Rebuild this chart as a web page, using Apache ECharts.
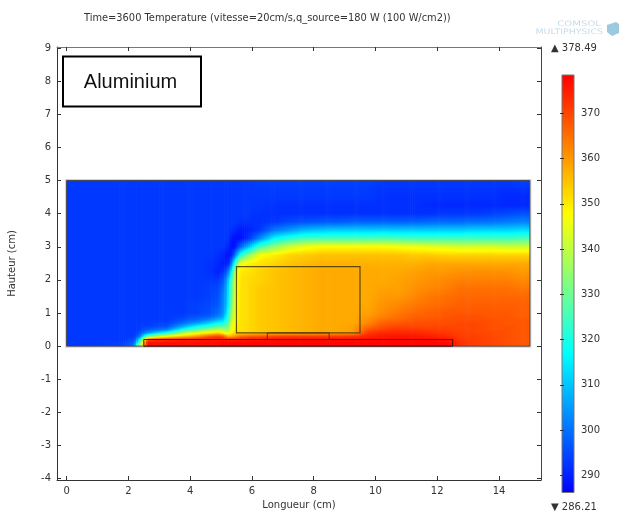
<!DOCTYPE html>
<html><head><meta charset="utf-8">
<script src="https://cdn.jsdelivr.net/npm/echarts@6/dist/echarts.min.js"></script>
<style>html,body{margin:0;padding:0;background:#fff}#c{width:619px;height:512px}</style>
</head><body><div id="c"></div>
<script>
const titleText = 'Time=3600 Temperature (vitesse=20cm/s,q_source=180 W (100 W/cm2))';
const annotationText = 'Aluminium';
const xName = 'Longueur (cm)';
const yName = 'Hauteur (cm)';
const xTicks = [0,2,4,6,8,10,12,14];
const yTicks = [-4,-3,-2,-1,0,1,2,3,4,5,6,7,8,9];
const colorbarTicks = [290,300,310,320,330,340,350,360,370];
const tempMin = 286.21;
const tempMax = 378.49;
const palette = ['#0000ff','#00ffff','#ffff00','#ff0000'];
// column edges (cm)
const xEdges = [0,1.5,2.1,2.25,2.4,2.5,2.75,3,3.5,4,4.5,4.8,5,5.1,5.2,5.3,5.4,5.5,5.75,6,6.5,7,7.5,8,8.5,9,9.5,10,10.5,11,11.5,12,12.5,13,13.5,14,14.5,15];
// heights at which each column was read (cm)
const yLevels = [0,.1,.2,.3,.4,.5,.6,.7,.8,.9,1, 1.25,1.5,1.75,2, 2.25,2.5,2.75,3, 3.25,3.5,3.75,4, 4.25,4.5,5];
// temperature, one line per column, bottom to top
const temperature = [
[293,293,293,293,293,293,293,293,293,293,293, 293,293,293,293, 293,293,293,293, 293,293,293,293, 293,293,293],
[294,294,293,293,293,293,293,293,293,293,293, 293,293,293,293, 293,293,293,293, 293,293,293,293, 293,293,293],
[300,298,295,293,293,293,293,293,293,293,293, 293,293,293,293, 293,293,293,293, 293,293,293,293, 293,293,293],
[330,320,308,298,295,293,293,293,293,293,293, 293,293,293,293, 293,293,293,293, 293,293,293,293, 293,293,293],
[350,345,330,310,299,295,294,293,293,293,293, 293,293,293,293, 293,293,293,293, 293,293,293,293, 293,293,293],
[377,377,370,328,305,297,294,293,293,293,293, 293,293,293,293, 293,293,293,293, 293,293,293,293, 293,293,293],
[377,377,372,338,311,299,295,294,293,293,293, 293,293,293,293, 293,293,293,293, 293,293,293,293, 293,293,293],
[377,377,373,347,320,302,296,294,293,293,293, 293,293,293,293, 293,293,293,293, 293,293,293,293, 293,293,293],
[377,377,375,354,338,318,306,299,296,294,293, 293,293,293,293, 293,293,293,293, 293,293,293,293, 293,293,293],
[377,377,376,360,346,328,317,305,299,296,294, 294,293,293,293, 293,293,293,293, 293,293,293,293, 293,293,293],
[377,377,376,368,350,336,322,312,303,298,296, 295,294,294,293, 292,292,293,293, 293,293,293,293, 293,293,293],
[377,377,376,370,353,340,327,317,308,302,299, 297,296,295,293, 290,291,292,293, 293,293,293,293, 293,293,293],
[378,378,376,368,350,338,326,318,310,305,303, 302,301,299,296, 292,289,291,293, 293,293,293,293, 293,293,293],
[378,378,376,362,345,335,328,322,317,313,310, 307,306,305,302, 295,290,289,292, 293,293,293,293, 293,293,293],
[378,378,375,356,345,340,335,330,327,324,322, 318,316,315,312, 303,291,288,290, 292,293,293,293, 293,293,293],
[378,378,375,358,350,346,344,342,340,338,336, 332,330,328,326, 318,303,291,288, 289,292,293,293, 293,293,293],
[378,378,375,360,352,350,349,348,347,346,346, 345,345,344,343, 340,322,300,289, 288,291,293,293, 293,293,293],
[378,378,375,365,352,351,351,351,351,351,351, 351,351,351,351, 350,346,320,298, 288,289,292,293, 293,293,293],
[378,378,376,367,353,352,352,352,352,352,352, 352,352,352,352, 351,349,332,308, 292,290,292,293, 293,293,293],
[378,378,376,368,354,354,354,354,354,354,354, 354,354,354,353, 353,351,347,325, 303,293,292,292, 293,293,294],
[378,378,377,370,355,355,355,355,355,355,355, 355,355,355,355, 355,353,350,335, 317,301,293,292, 292,293,294],
[378,378,377,371,356,356,356,356,356,356,356, 356,356,356,356, 356,355,353,342, 322,305,295,292, 292,293,294],
[378,378,377,371,357,357,357,357,357,357,357, 357,357,357,357, 357,356,354,346, 325,309,296,292, 292,293,294],
[378,378,377,371,358,358,358,358,358,358,358, 358,358,358,358, 358,357,355,348, 326,310,297,292, 292,293,294],
[378,378,377,371,358,358,358,358,358,358,358, 358,358,358,358, 358,357,355,348, 326,311,297,292, 292,293,294],
[378,378,377,372,359,359,359,358,358,358,358, 358,358,358,358, 358,357,355,348, 326,311,298,292, 292,293,294],
[378,378,377,374,372,368,365,362,361,360,359, 358,358,358,358, 358,357,355,348, 326,311,298,292, 292,293,294],
[378,378,377,376,374,371,369,367,365,363,362, 361,360,359,358, 358,357,355,348, 327,311,298,292, 292,292,293],
[378,378,377,376,374,372,370,368,366,365,364, 362,360,359,359, 358,357,355,347, 326,311,298,292, 292,292,293],
[378,378,377,376,374,372,370,369,368,367,366, 364,362,361,360, 359,357,354,346, 325,311,298,292, 292,292,293],
[378,378,377,375,373,371,370,369,368,367,367, 365,364,362,361, 360,358,354,345, 325,311,299,292, 291,292,293],
[378,378,376,374,372,371,370,369,369,368,368, 366,365,363,362, 360,358,353,344, 325,311,299,293, 291,292,293],
[373,373,372,371,371,370,370,370,369,369,368, 367,366,365,363, 361,358,353,343, 325,311,299,293, 291,292,293],
[371,371,371,371,370,370,370,370,369,369,368, 367,366,365,363, 361,358,353,343, 325,312,300,293, 291,292,293],
[370,370,370,370,370,369,369,369,369,368,368, 367,366,365,363, 361,358,353,343, 325,312,300,294, 291,292,293],
[369,369,369,369,369,369,369,368,368,368,368, 367,366,365,363, 361,358,353,342, 325,312,301,295, 291,291,293],
[368,368,368,368,368,368,368,368,368,367,367, 367,366,364,362, 360,358,353,342, 326,313,302,296, 291,291,294]
];
// geometry outlines [x0, y0, x1, y1] in cm
const domainRect = [[0,0,15,5]];
const plateRect = [[2.5,0,12.5,0.2]];
const standRect = [[6.5,0.2,8.5,0.4]];
const boxRect = [[5.5,0.4,9.5,2.4]];
const colorbarEdge = [[0,tempMin,1,tempMax]];
const colorbarLevels = [286.21,290,300,310,320,330,340,350,360,370,378.49];

const chart = echarts.init(document.getElementById('c'));
const colorOf = t => echarts.color.lerp(Math.min(1,Math.max(0,(t-tempMin)/(tempMax-tempMin))), palette);
const xCenters = temperature.map((c,i)=>(xEdges[i]+xEdges[i+1])/2);

// shading between the read levels: a canvas gradient per painted band
function gradientStops(levels, values){
  const lo = levels[0], hi = levels[levels.length-1], stops = [];
  for(let i=0;i<levels.length-1;i++){
    for(let k=0;k<6;k++){
      const f=k/6;
      stops.push({offset:(levels[i]+(levels[i+1]-levels[i])*f-lo)/(hi-lo), color:colorOf(values[i]+(values[i+1]-values[i])*f)});
    }
  }
  stops.push({offset:1,color:colorOf(values[values.length-1])});
  return stops;
}
function bandShape(api, x0, x1, levels, values, overlap){
  const a = api.coord([x0, levels[levels.length-1]]);
  const b = api.coord([x1, levels[0]]);
  return {type:'rect', shape:{x:a[0], y:a[1], width:b[0]-a[0]+overlap, height:b[1]-a[1]},
    style:{fill:new echarts.graphic.LinearGradient(0,1,0,0,gradientStops(levels,values))}};
}
// each column is painted as thin bands that shade towards the neighbouring column
function columnShade(x, i){
  const j = x < xCenters[i] ? i-1 : i+1;
  if(j<0 || j>=temperature.length) return temperature[i];
  const f = (x-xCenters[i])/(xCenters[j]-xCenters[i]);
  return temperature[i].map((v,k)=>v+(temperature[j][k]-v)*f);
}
function outlineSeries(data, stroke, width, xi, yi, z){
  return {type:'custom', coordinateSystem:'cartesian2d', xAxisIndex:xi, yAxisIndex:yi, z:z, silent:true, data:data,
    encode:{x:[0,2],y:[1,3]},
    renderItem(params, api){
      const a = api.coord([api.value(0), api.value(3)]);
      const b = api.coord([api.value(2), api.value(1)]);
      return {type:'rect', shape:{x:a[0],y:a[1],width:b[0]-a[0],height:b[1]-a[1]},
        style:{fill:'none', stroke:stroke, lineWidth:width}};
    }};
}
const stripData = temperature.map((c,i)=>[xEdges[i],xEdges[i+1],i]);
const axisBase = {type:'value', splitLine:{show:false}, minorTick:{show:false}};
const fontC = '#333';
const fam = '"DejaVu Sans"';
const bandStep = 0.065; // about 2 px

chart.setOption({
  animation:false,
  backgroundColor:'#fff',
  textStyle:{fontFamily:fam},
  title:{text:titleText, left:84, top:13, padding:0, textStyle:{fontFamily:fam,fontSize:9.85,fontWeight:'normal',color:fontC}},
  grid:[
    {left:57, top:47, width:484, height:433, containLabel:false, outerBoundsMode:'none'},
    {left:562, top:75, width:12, height:417.5, containLabel:false, outerBoundsMode:'none'}
  ],
  xAxis:[
    {...axisBase, gridIndex:0, position:'bottom', min:-0.31, max:15.36, name:xName, nameLocation:'middle', nameGap:17,
      nameTextStyle:{color:fontC,fontSize:10,fontFamily:fam},
      axisLine:{onZero:false,lineStyle:{color:'#333',width:1}},
      axisTick:{inside:true,length:4,customValues:xTicks,lineStyle:{color:'#333'}},
      axisLabel:{customValues:xTicks,color:fontC,fontSize:10,margin:6,fontFamily:fam}},
    {...axisBase, gridIndex:0, position:'top', min:-0.31, max:15.36,
      axisLine:{onZero:false,lineStyle:{color:'#777',width:1}},
      axisTick:{inside:true,length:4,customValues:xTicks,lineStyle:{color:'#333'}},
      axisLabel:{show:false}},
    {...axisBase, gridIndex:1, min:0, max:1, show:false}
  ],
  yAxis:[
    {...axisBase, gridIndex:0, position:'left', min:-4.04, max:9.03, name:yName, nameLocation:'middle', nameGap:40,
      nameTextStyle:{color:fontC,fontSize:10,fontFamily:fam},
      axisLine:{onZero:false,lineStyle:{color:'#333',width:1}},
      axisTick:{inside:true,length:4,customValues:yTicks,lineStyle:{color:'#333'}},
      axisLabel:{customValues:yTicks,color:fontC,fontSize:10,margin:6,fontFamily:fam}},
    {...axisBase, gridIndex:0, position:'right', min:-4.04, max:9.03,
      axisLine:{onZero:false,lineStyle:{color:'#444',width:1}},
      axisTick:{inside:true,length:4,customValues:yTicks,lineStyle:{color:'#333'}},
      axisLabel:{show:false}},
    {...axisBase, gridIndex:1, position:'right', min:tempMin, max:tempMax, z:20,
      axisLine:{show:false},
      axisTick:{inside:true,length:2,customValues:colorbarTicks,lineStyle:{color:'#333'}},
      axisLabel:{customValues:colorbarTicks,color:fontC,fontSize:10,margin:7,fontFamily:fam}},
    {...axisBase, gridIndex:1, position:'left', min:tempMin, max:tempMax, z:20,
      axisLine:{show:false},
      axisTick:{inside:true,length:2,customValues:colorbarTicks,lineStyle:{color:'#333'}},
      axisLabel:{show:false}}
  ],
  series:[
    outlineSeries(domainRect,'rgba(190,190,190,0.7)',3,0,0,1),
    {type:'custom', name:'Temperature', coordinateSystem:'cartesian2d', xAxisIndex:0, yAxisIndex:0, z:2, silent:true,
      data:stripData, encode:{x:[0,1]},
      renderItem(params, api){
        const i = api.value(2), x0 = api.value(0), x1 = api.value(1), children = [];
        const n = Math.max(1, Math.round((x1-x0)/bandStep));
        for(let k=0;k<n;k++){
          const a = x0+(x1-x0)*k/n, b = x0+(x1-x0)*(k+1)/n;
          const last = i===temperature.length-1 && k===n-1;
          children.push(bandShape(api, a, b, yLevels, columnShade((a+b)/2, i), last?0:0.7));
        }
        return {type:'group', children};
      }},
    outlineSeries(domainRect,'rgba(70,70,70,0.9)',1,0,0,3),
    outlineSeries(plateRect,'rgba(60,0,0,0.85)',1,0,0,4),
    outlineSeries(standRect,'rgba(70,40,0,0.85)',1,0,0,4),
    outlineSeries(boxRect,'rgba(70,55,0,0.85)',1.2,0,0,4),
    {type:'custom', name:'Colorbar', coordinateSystem:'cartesian2d', xAxisIndex:2, yAxisIndex:2, z:2, silent:true,
      data:[[0,1]], encode:{x:[0,1]},
      renderItem(params, api){ return bandShape(api, api.value(0), api.value(1), colorbarLevels, colorbarLevels, 0); }},
    outlineSeries(colorbarEdge,'#777',1,2,2,3)
  ],
  graphic:[
    {type:'rect', z:50, shape:{x:63,y:56.5,width:138,height:50}, style:{fill:'#fff',stroke:'#000',lineWidth:2}},
    {type:'text', z:51, x:130.5, y:82, style:{text:annotationText, fontFamily:'"Liberation Sans"', fontSize:20, fill:'#111', textAlign:'center', textVerticalAlign:'middle'}},
    {type:'text', z:51, x:551, y:48, style:{text:'\u25B2 '+tempMax.toFixed(2), fontFamily:fam, fontSize:10, fill:fontC, textVerticalAlign:'middle'}},
    {type:'text', z:51, x:551, y:507, style:{text:'\u25BC '+tempMin.toFixed(2), fontFamily:fam, fontSize:10, fill:fontC, textVerticalAlign:'middle'}},
    {type:'text', z:51, x:601, y:24.5, scaleX:1.35, style:{text:'COMSOL', fontFamily:fam, fontSize:7.5, fill:'#c6dcea', textAlign:'right', textVerticalAlign:'middle'}},
    {type:'text', z:51, x:603, y:32, scaleX:1.26, style:{text:'MULTIPHYSICS', fontFamily:fam, fontSize:7.5, fill:'#c6dcea', textAlign:'right', textVerticalAlign:'middle'}},
    {type:'polygon', z:51, shape:{points:[[607,25],[616,22],[619,24],[619,33],[612,36],[607,32]]}, style:{fill:'#9cc8e0'}}
  ]
});
</script></body></html>
